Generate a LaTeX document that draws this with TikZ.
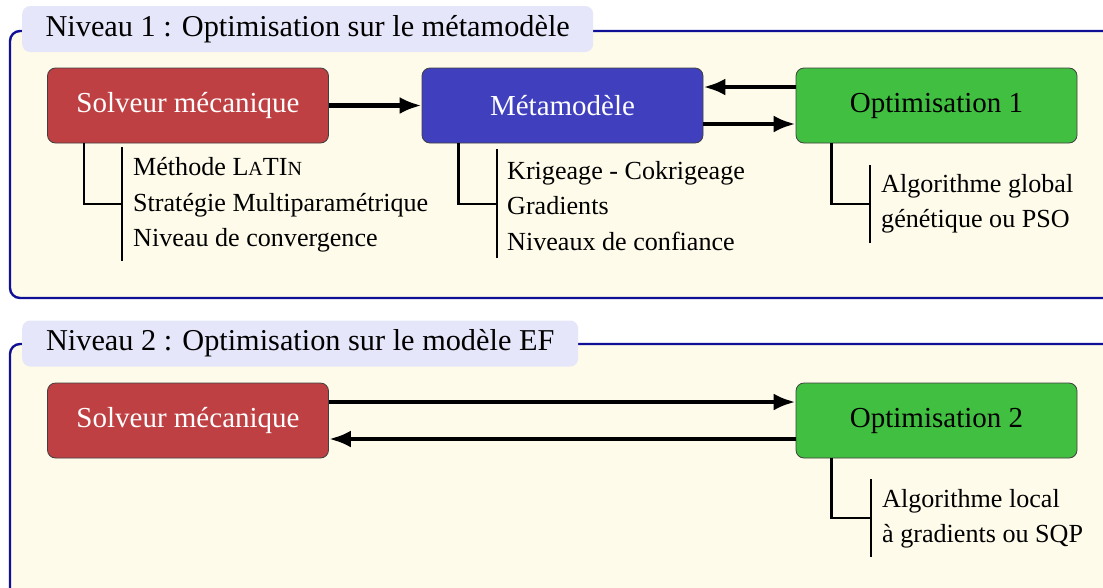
\documentclass[tikz,border=0pt]{standalone}
\usepackage{fontspec}
\setmainfont{Liberation Serif}
\usetikzlibrary{arrows.meta,calc}
\definecolor{framefill}{RGB}{254,251,234}
\definecolor{frameline}{RGB}{16,16,150}
\definecolor{titlefill}{RGB}{230,230,250}
\definecolor{redbox}{RGB}{191,64,66}
\definecolor{bluebox}{RGB}{64,64,191}
\definecolor{greenbox}{RGB}{64,191,64}
\newcommand\mysmc[1]{{\fontsize{20}{20}\selectfont #1}}
\begin{document}
\begin{tikzpicture}[x=1pt,y=-1pt,
 frame/.style={draw=frameline, line width=2.4pt, fill=framefill, rounded corners=10pt},
 titlebox/.style={fill=titlefill, rounded corners=8pt, inner xsep=0pt, inner ysep=0pt, minimum height=46pt, anchor=west, font=\fontsize{30.3}{36}\selectfont},
 block/.style={draw=black!75, line width=0.8pt, rounded corners=8pt, minimum width=281pt, minimum height=75pt, font=\fontsize{29}{35}\selectfont},
 link/.style={line width=4.5pt, -{Latex[length=22pt,width=17pt]}},
 brack/.style={line width=2.6pt},
 sub/.style={anchor=west, align=left, font=\fontsize{26.1}{35.5}\selectfont, inner sep=0pt}
]
\useasboundingbox (0,0) rectangle (1103,587);
\clip (0,0) rectangle (1103,587);
\fill[white] (0,0) rectangle (1103,587);

% frames
\draw[frame] (10,31) rectangle (1130,298);
\draw[frame] (10,344) rectangle (1130,640);

\node[titlebox, minimum width=571pt] (t1) at (22,29) {Niveau 1 : Optimisation sur le métamodèle};
\node[titlebox, minimum width=556pt] (t2) at (22,343.5) {Niveau 2 : Optimisation sur le modèle EF};

% blocks level 1
\node[block, fill=redbox, text=white] (s1) at (188,105.5) {Solveur mécanique};
\node[block, fill=bluebox, text=white] (m1) at (562.5,105.5) {Métamodèle};
\node[block, fill=greenbox] (o1) at (936.5,105.5) {Optimisation 1};

% blocks level 2
\node[block, fill=redbox, text=white] (s2) at (188,420.5) {Solveur mécanique};
\node[block, fill=greenbox] (o2) at (936.5,420.5) {Optimisation 2};

% arrows
\draw[link] (s1.east) -- (m1.west);
\draw[link] ($(o1.west)+(0,-18.5)$) -- ($(m1.east)+(0,-18.5)$);
\draw[link] ($(m1.east)+(0,18.5)$) -- ($(o1.west)+(0,18.5)$);
\draw[link] ($(s2.east)+(0,-18.5)$) -- ($(o2.west)+(0,-18.5)$);
\draw[link] ($(o2.west)+(0,18.5)$) -- ($(s2.east)+(0,18.5)$);

% sub texts
\node[sub] (s1t) at (133,205) {Méthode L\mysmc{A}TI\mysmc{N}\\Stratégie Multiparamétrique\\Niveau de convergence};
\node[sub] (m1t) at (507,206) {Krigeage - Cokrigeage\\Gradients\\Niveaux de confiance};
\node[sub] (o1t) at (881,204) {Algorithme global\\génétique ou PSO};
\node[sub] (o2t) at (882,519) {Algorithme local\\à gradients ou SQP};

% brackets
\coordinate (s1j) at (122,204);
\coordinate (m1j) at (497,204);
\coordinate (o1j) at (870,204);
\coordinate (o2j) at (871,518);
\draw[brack] ([xshift=37pt]s1.south west) |- (s1j);
\draw[brack] ([xshift=37pt]m1.south west) |- (m1j);
\draw[brack] ([xshift=36pt]o1.south west) |- (o1j);
\draw[brack] ([xshift=36pt]o2.south west) |- (o2j);
\draw[brack] (122,147) -- (122,261);
\draw[brack] (497,149) -- (497,258);
\draw[brack] (870,165) -- (870,243);
\draw[brack] (871,479) -- (871,557);
\end{tikzpicture}
\end{document}
